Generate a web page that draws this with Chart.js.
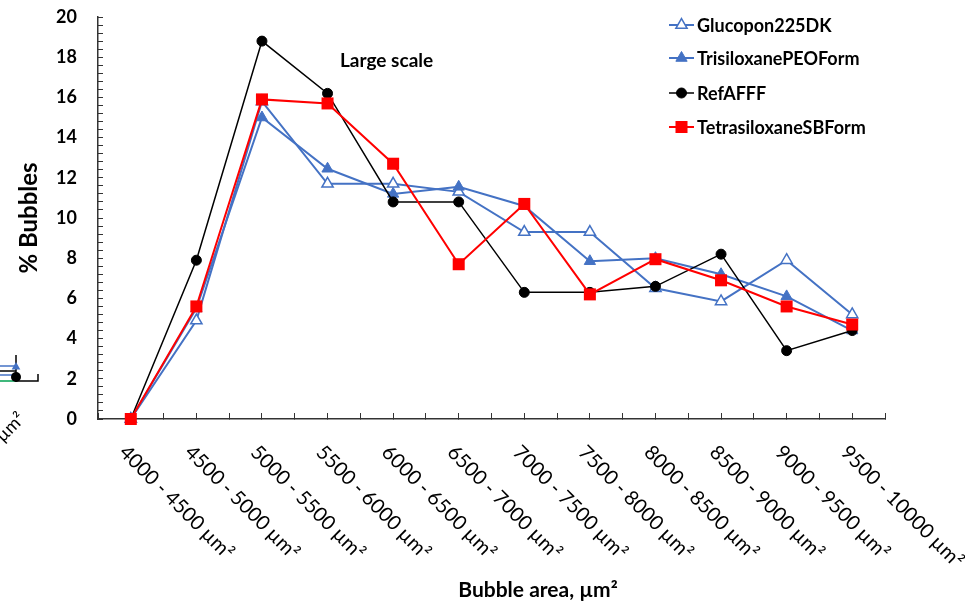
<!DOCTYPE html>
<html>
<head>
<meta charset="utf-8">
<script src="https://cdn.jsdelivr.net/npm/chart.js@4.4.1/dist/chart.umd.min.js"></script>
<style>
  html, body { margin: 0; padding: 0; background: #fff; }
</style>
</head>
<body>
<canvas id="chart" width="965" height="603"></canvas>
<script>
// bubble size classes
const categories = [
  '4000 - 4500 µm²', '4500 - 5000 µm²', '5000 - 5500 µm²', '5500 - 6000 µm²',
  '6000 - 6500 µm²', '6500 - 7000 µm²', '7000 - 7500 µm²', '7500 - 8000 µm²',
  '8000 - 8500 µm²', '8500 - 9000 µm²', '9000 - 9500 µm²', '9500 - 10000 µm²'
];

// % bubbles per class
const glucopon = [0, 4.9, 15.8, 11.7, 11.7, 11.3, 9.3, 9.3, 6.5, 5.85, 7.9, 5.2];
const trisiloxane = [0, 5.5, 15.0, 12.45, 11.2, 11.55, 10.6, 7.85, 8.0, 7.2, 6.1, 4.4];
const refAfff = [0, 7.9, 18.8, 16.2, 10.8, 10.8, 6.3, 6.3, 6.6, 8.2, 3.4, 4.4];
const tetrasiloxane = [0, 5.6, 15.9, 15.7, 12.7, 7.7, 10.7, 6.2, 7.95, 6.9, 5.6, 4.7];

const yTickLabels = [0, 2, 4, 6, 8, 10, 12, 14, 16, 18, 20];

const FONT = 'Lato, "Liberation Sans", sans-serif';
const BLUE = '#4472C4';
const RED = '#FF0000';
const AXIS = '#333333';

function pts(values) {
  return values.map((v, i) => ({ x: i, y: v }));
}

const datasets = [
  {
    label: 'Glucopon225DK', data: pts(glucopon), order: 4,
    borderColor: BLUE, borderWidth: 2,
    pointStyle: 'triangle', pointRadius: 6.5, pointBorderWidth: 1.5,
    pointBorderColor: BLUE, pointBackgroundColor: '#ffffff'
  },
  {
    label: 'TrisiloxanePEOForm', data: pts(trisiloxane), order: 3,
    borderColor: BLUE, borderWidth: 2,
    pointStyle: 'triangle', pointRadius: 6.5, pointBorderWidth: 1,
    pointBorderColor: BLUE, pointBackgroundColor: BLUE
  },
  {
    label: 'RefAFFF', data: pts(refAfff), order: 2,
    borderColor: '#000000', borderWidth: 1.5,
    pointStyle: 'circle', pointRadius: 5, pointBorderWidth: 1,
    pointBorderColor: '#000000', pointBackgroundColor: '#000000'
  },
  {
    label: 'TetrasiloxaneSBForm', data: pts(tetrasiloxane), order: 1,
    borderColor: RED, borderWidth: 2,
    pointStyle: 'rect', pointRadius: 8.5, pointBorderWidth: 0,
    pointBorderColor: RED, pointBackgroundColor: RED
  }
];
datasets.forEach(d => { d.clip = false; d.tension = 0; d.fill = false; });

const extras = {
  id: 'extras',
  afterDraw(chart) {
    const { ctx, scales: { x, y } } = chart;
    ctx.save();
    ctx.fillStyle = '#000';

    // rotated category labels (clockwise, Excel style)
    ctx.font = '20px ' + FONT;
    ctx.textAlign = 'left';
    ctx.textBaseline = 'middle';
    categories.forEach((lab, i) => {
      ctx.save();
      ctx.translate(x.getPixelForValue(i) - 8, 449);
      ctx.rotate(Math.PI / 4);
      ctx.fillText(lab, 0, 0);
      ctx.restore();
    });

    // axis title
    ctx.font = 'bold 21px ' + FONT;
    ctx.textAlign = 'center';
    ctx.fillText('Bubble area, µm²', 538, 590);

    // annotation
    ctx.font = 'bold 19px ' + FONT;
    ctx.fillText('Large scale', x.getPixelForValue(3.9), y.getPixelForValue(17.8));

    // legend
    ctx.font = 'bold 18px ' + FONT;
    ctx.textAlign = 'left';
    const rows = [25, 58, 93, 127];
    datasets.forEach((d, i) => {
      const ry = rows[i];
      ctx.strokeStyle = d.borderColor;
      ctx.lineWidth = d.borderWidth;
      ctx.beginPath();
      ctx.moveTo(669, ry);
      ctx.lineTo(694, ry);
      ctx.stroke();
      ctx.fillStyle = d.pointBackgroundColor;
      ctx.strokeStyle = d.pointBorderColor;
      ctx.lineWidth = d.pointBorderWidth;
      Chart.helpers.drawPoint(ctx, {
        pointStyle: d.pointStyle, radius: d.pointRadius, rotation: 0,
        borderWidth: d.pointBorderWidth
      }, 681.5, ry);
      ctx.fillStyle = '#000';
      ctx.fillText(d.label, 697, ry + 1);
    });

    // cut-off corner of the neighbouring panel
    const stub = [['#4472C4', 366], ['#000000', 371], ['#4472C4', 375], ['#00A050', 381]];
    ctx.lineWidth = 1.5;
    stub.forEach(([c, sy]) => {
      ctx.strokeStyle = c;
      ctx.beginPath();
      ctx.moveTo(0, sy);
      ctx.lineTo(16, sy);
      ctx.stroke();
    });
    ctx.strokeStyle = '#000';
    ctx.beginPath();
    ctx.moveTo(16, 355); ctx.lineTo(16, 382);
    ctx.moveTo(16, 381); ctx.lineTo(38, 381); ctx.lineTo(38, 374);
    ctx.stroke();
    ctx.fillStyle = '#000';
    ctx.beginPath();
    ctx.arc(16, 377, 5, 0, Math.PI * 2);
    ctx.fill();
    ctx.fillStyle = BLUE;
    Chart.helpers.drawPoint(ctx, { pointStyle: 'triangle', radius: 5, rotation: 0, borderWidth: 0 }, 16, 367);

    ctx.fillStyle = '#000';
    ctx.font = '18px ' + FONT;
    ctx.save();
    ctx.translate(26, 420);
    ctx.rotate(-Math.PI / 4);
    ctx.textAlign = 'right';
    ctx.textBaseline = 'alphabetic';
    ctx.fillText('µm²', 0, 0);
    ctx.restore();

    ctx.restore();
  }
};

new Chart(document.getElementById('chart'), {
  type: 'line',
  data: { datasets },
  options: {
    responsive: false,
    animation: false,
    layout: { padding: { top: 17, right: 80, bottom: 0, left: 0 } },
    plugins: { legend: { display: false }, tooltip: { enabled: false } },
    scales: {
      x: {
        type: 'linear', min: -0.5, max: 11.5,
        ticks: { stepSize: 0.5, display: false },
        grid: { drawOnChartArea: false, tickLength: -6, color: AXIS, lineWidth: 1 },
        border: { color: AXIS, width: 1.5 },
        afterFit(scale) { scale.height = 184; }
      },
      y: {
        min: 0, max: 20,
        ticks: {
          stepSize: 0.4, autoSkip: false, padding: 26, color: '#000',
          font: { family: FONT, size: 18, weight: 'bold' },
          callback: v => {
            const hit = yTickLabels.find(t => Math.abs(t - v) < 1e-6);
            return hit === undefined ? '' : String(hit);
          }
        },
        grid: { drawOnChartArea: false, tickLength: -5, color: AXIS, lineWidth: 1 },
        border: { color: AXIS, width: 1.5 },
        title: {
          display: true, text: '% Bubbles', color: '#000',
          font: { family: FONT, size: 24, weight: 'bold' },
          padding: { top: 15, bottom: 0 }
        },
        afterFit(scale) {
          scale.width = 98;
          scale.paddingTop = 0;
          scale.paddingBottom = 0;
        }
      }
    }
  },
  plugins: [extras]
});
</script>
</body>
</html>
